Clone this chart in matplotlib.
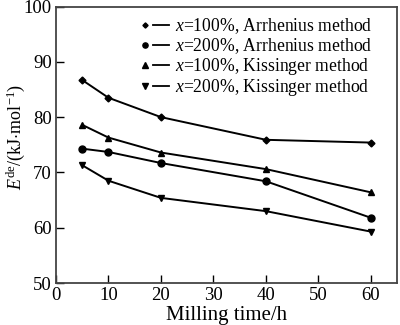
import matplotlib.pyplot as plt
from matplotlib.lines import Line2D
from matplotlib.legend_handler import HandlerLine2D

plt.rcParams['font.family'] = ['Liberation Serif', 'DejaVu Serif']
plt.rcParams['mathtext.fontset'] = 'custom'
plt.rcParams['mathtext.rm'] = 'Liberation Serif'
plt.rcParams['mathtext.it'] = 'Liberation Serif:italic'

milling_time = [5, 10, 20, 40, 60]
arr_100 = [86.7, 83.5, 80.0, 75.9, 75.4]
arr_200 = [74.3, 73.7, 71.7, 68.4, 61.8]
kis_100 = [78.6, 76.3, 73.6, 70.6, 66.4]
kis_200 = [71.3, 68.5, 65.4, 63.0, 59.3]

series = [
    (arr_100, 'D', 3.5, r'$x$=100%, Arrhenius method'),
    (arr_200, 'o', 5, r'$x$=200%, Arrhenius method'),
    (kis_100, '^', 5, r'$x$=100%, Kissinger method'),
    (kis_200, 'v', 5, r'$x$=200%, Kissinger method'),
]


class MarkerThenLine(HandlerLine2D):
    # small marker on the left, short dash to its right
    def create_artists(self, legend, orig_handle, xdescent, ydescent,
                       width, height, fontsize, trans):
        y = height / 2 - ydescent
        x0 = -xdescent
        dash = Line2D([x0 + width * 0.42, x0 + width], [y, y],
                      color='black', lw=1.3)
        mk = Line2D([x0 + width * 0.12], [y], marker=orig_handle.get_marker(),
                    markersize=orig_handle.get_markersize() * 0.75,
                    color='black', linestyle='none')
        dash.set_transform(trans)
        mk.set_transform(trans)
        return [dash, mk]


fig, ax = plt.subplots(figsize=(4.0, 3.25), dpi=100)
fig.subplots_adjust(left=0.14, right=0.993, top=0.98, bottom=0.129)

for vals, m, ms, lab in series:
    ax.plot(milling_time, vals, color='black', marker=m, markersize=ms,
            linewidth=1.4, label=lab)

ax.set_xlim(0, 65)
ax.set_ylim(50, 100)
ax.set_xticks([0, 10, 20, 30, 40, 50, 60])
ax.set_yticks([50, 60, 70, 80, 90, 100])
ax.tick_params(direction='in', length=6, labelsize=13.5, width=1, pad=3,
               top=False, right=False)
for sp in ax.spines.values():
    sp.set_linewidth(1.3)
    sp.set_color('#444444')

ax.set_xlabel('Milling time/h', fontsize=15, labelpad=1)
ax.set_ylabel(r'$E^{\rm de}$/(kJ$\cdot$mol$^{-1}$)', fontsize=13)
ax.yaxis.set_label_coords(-0.085, 0.53)

ax.legend(loc='upper right', bbox_to_anchor=(0.955, 1.0), frameon=False,
          fontsize=12.7, handlelength=1.5, handletextpad=0.35,
          labelspacing=0.0, borderaxespad=0.15,
          handler_map={Line2D: MarkerThenLine()})

fig.savefig('out.png', dpi=100)
